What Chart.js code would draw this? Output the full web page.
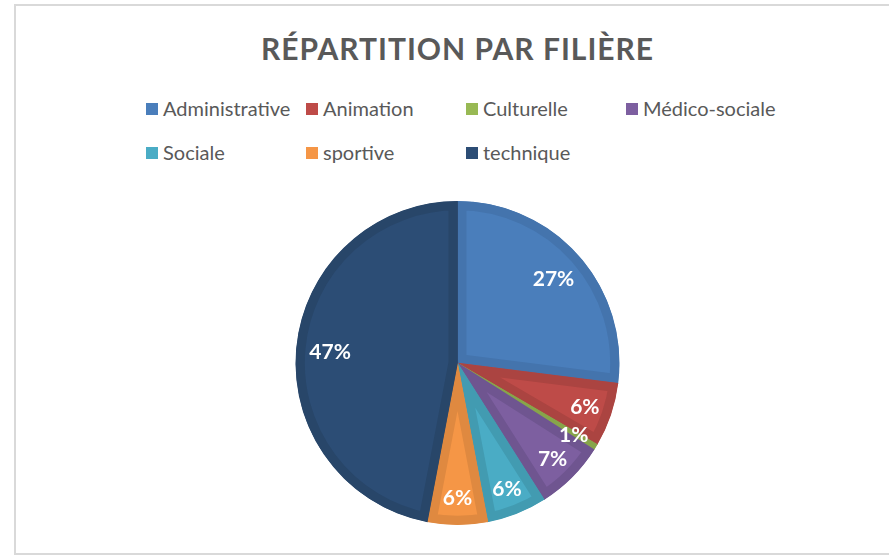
<!DOCTYPE html>
<html lang="fr">
<head>
<meta charset="utf-8">
<script src="https://cdn.jsdelivr.net/npm/chart.js@4/dist/chart.umd.min.js"></script>
<style>
  html, body { margin: 0; padding: 0; background: #fff; overflow: hidden; }
  body { width: 889px; height: 556px; position: relative; font-family: Lato, "Open Sans", sans-serif; }
  #frame { position: absolute; left: 14px; top: 4px; width: 900px; height: 547px; border: 2px solid #d9d9d9; }
  #title { position: absolute; left: 15px; width: 885px; top: 33px; text-align: center;
           font-size: 30px; line-height: 30px; font-weight: 700; color: #595959; letter-spacing: 1px; }
  .leg { position: absolute; font-size: 20px; line-height: 20px; color: #595959; white-space: nowrap; }
  .leg i { position: absolute; left: -17px; top: 5px; width: 12px; height: 12px; }
  #wrap { position: absolute; left: 15px; top: 0; width: 885px; height: 556px; }
</style>
</head>
<body>
<div id="frame"></div>
<div id="title">RÉPARTITION PAR FILIÈRE</div>
<div id="legend"></div>
<div id="wrap"><canvas id="chart"></canvas></div>
<script>
// ─── Data ────────────────────────────────────────────────────────────────────
const filieres = ['Administrative', 'Animation', 'Culturelle', 'Médico-sociale', 'Sociale', 'sportive', 'technique'];
const parts    = [27.0, 6.4, 0.6, 7.0, 6.0, 6.0, 47.0];
const fills    = ['#4a7ebb', '#be4b48', '#98b954', '#7d5fa0', '#4aacc5', '#f59646', '#2c4d75'];
const edges    = ['#4474ad', '#ab4441', '#87a54a', '#6f5590', '#429bb1', '#df8940', '#284669'];

// ─── Legend (grid of 4 columns) ──────────────────────────────────────────────
document.getElementById('legend').innerHTML = filieres.map((f, i) => {
  const left = 163 + (i % 4) * 160;
  const top  = 98 + Math.floor(i / 4) * 44;
  return `<div class="leg" style="left:${left}px;top:${top}px;"><i style="background:${fills[i]}"></i>${f}</div>`;
}).join('');

// ─── Percentage labels drawn inside the slices ───────────────────────────────
const pctLabels = {
  id: 'pctLabels',
  afterDatasetsDraw(chart) {
    const ctx = chart.ctx;
    const meta = chart.getDatasetMeta(0);
    const data = chart.data.datasets[0].data;
    const total = data.reduce((a, b) => a + b, 0);
    ctx.save();
    ctx.font = 'bold 21px Lato, "Open Sans", sans-serif';
    ctx.fillStyle = '#ffffff';
    ctx.textAlign = 'center';
    ctx.textBaseline = 'middle';
    meta.data.forEach((arc, i) => {
      const p = arc.getProps(['x', 'y', 'startAngle', 'endAngle', 'outerRadius'], true);
      const mid = (p.startAngle + p.endAngle) / 2;
      const share = data[i] / total;
      const f = share > 0.2 ? 0.79 : (share < 0.03 ? 0.84 : 0.83);
      const x = p.x + Math.cos(mid) * p.outerRadius * f;
      const y = p.y + Math.sin(mid) * p.outerRadius * f;
      ctx.fillText(Math.round(share * 100) + '%', x, y + 1);
    });
    ctx.restore();
  }
};

new Chart(document.getElementById('chart'), {
  type: 'pie',
  data: {
    labels: filieres,
    datasets: [{
      data: parts,
      backgroundColor: fills,
      borderColor: edges,
      borderWidth: 9,
      borderAlign: 'inner',
      radius: 162,
    }],
  },
  options: {
    responsive: true,
    maintainAspectRatio: false,
    animation: false,
    layout: { padding: { top: 170, bottom: 0, left: 0, right: 0 } },
    plugins: {
      legend: { display: false },
      title: { display: false },
      tooltip: { enabled: false },
    },
  },
  plugins: [pctLabels],
});
</script>
</body>
</html>
